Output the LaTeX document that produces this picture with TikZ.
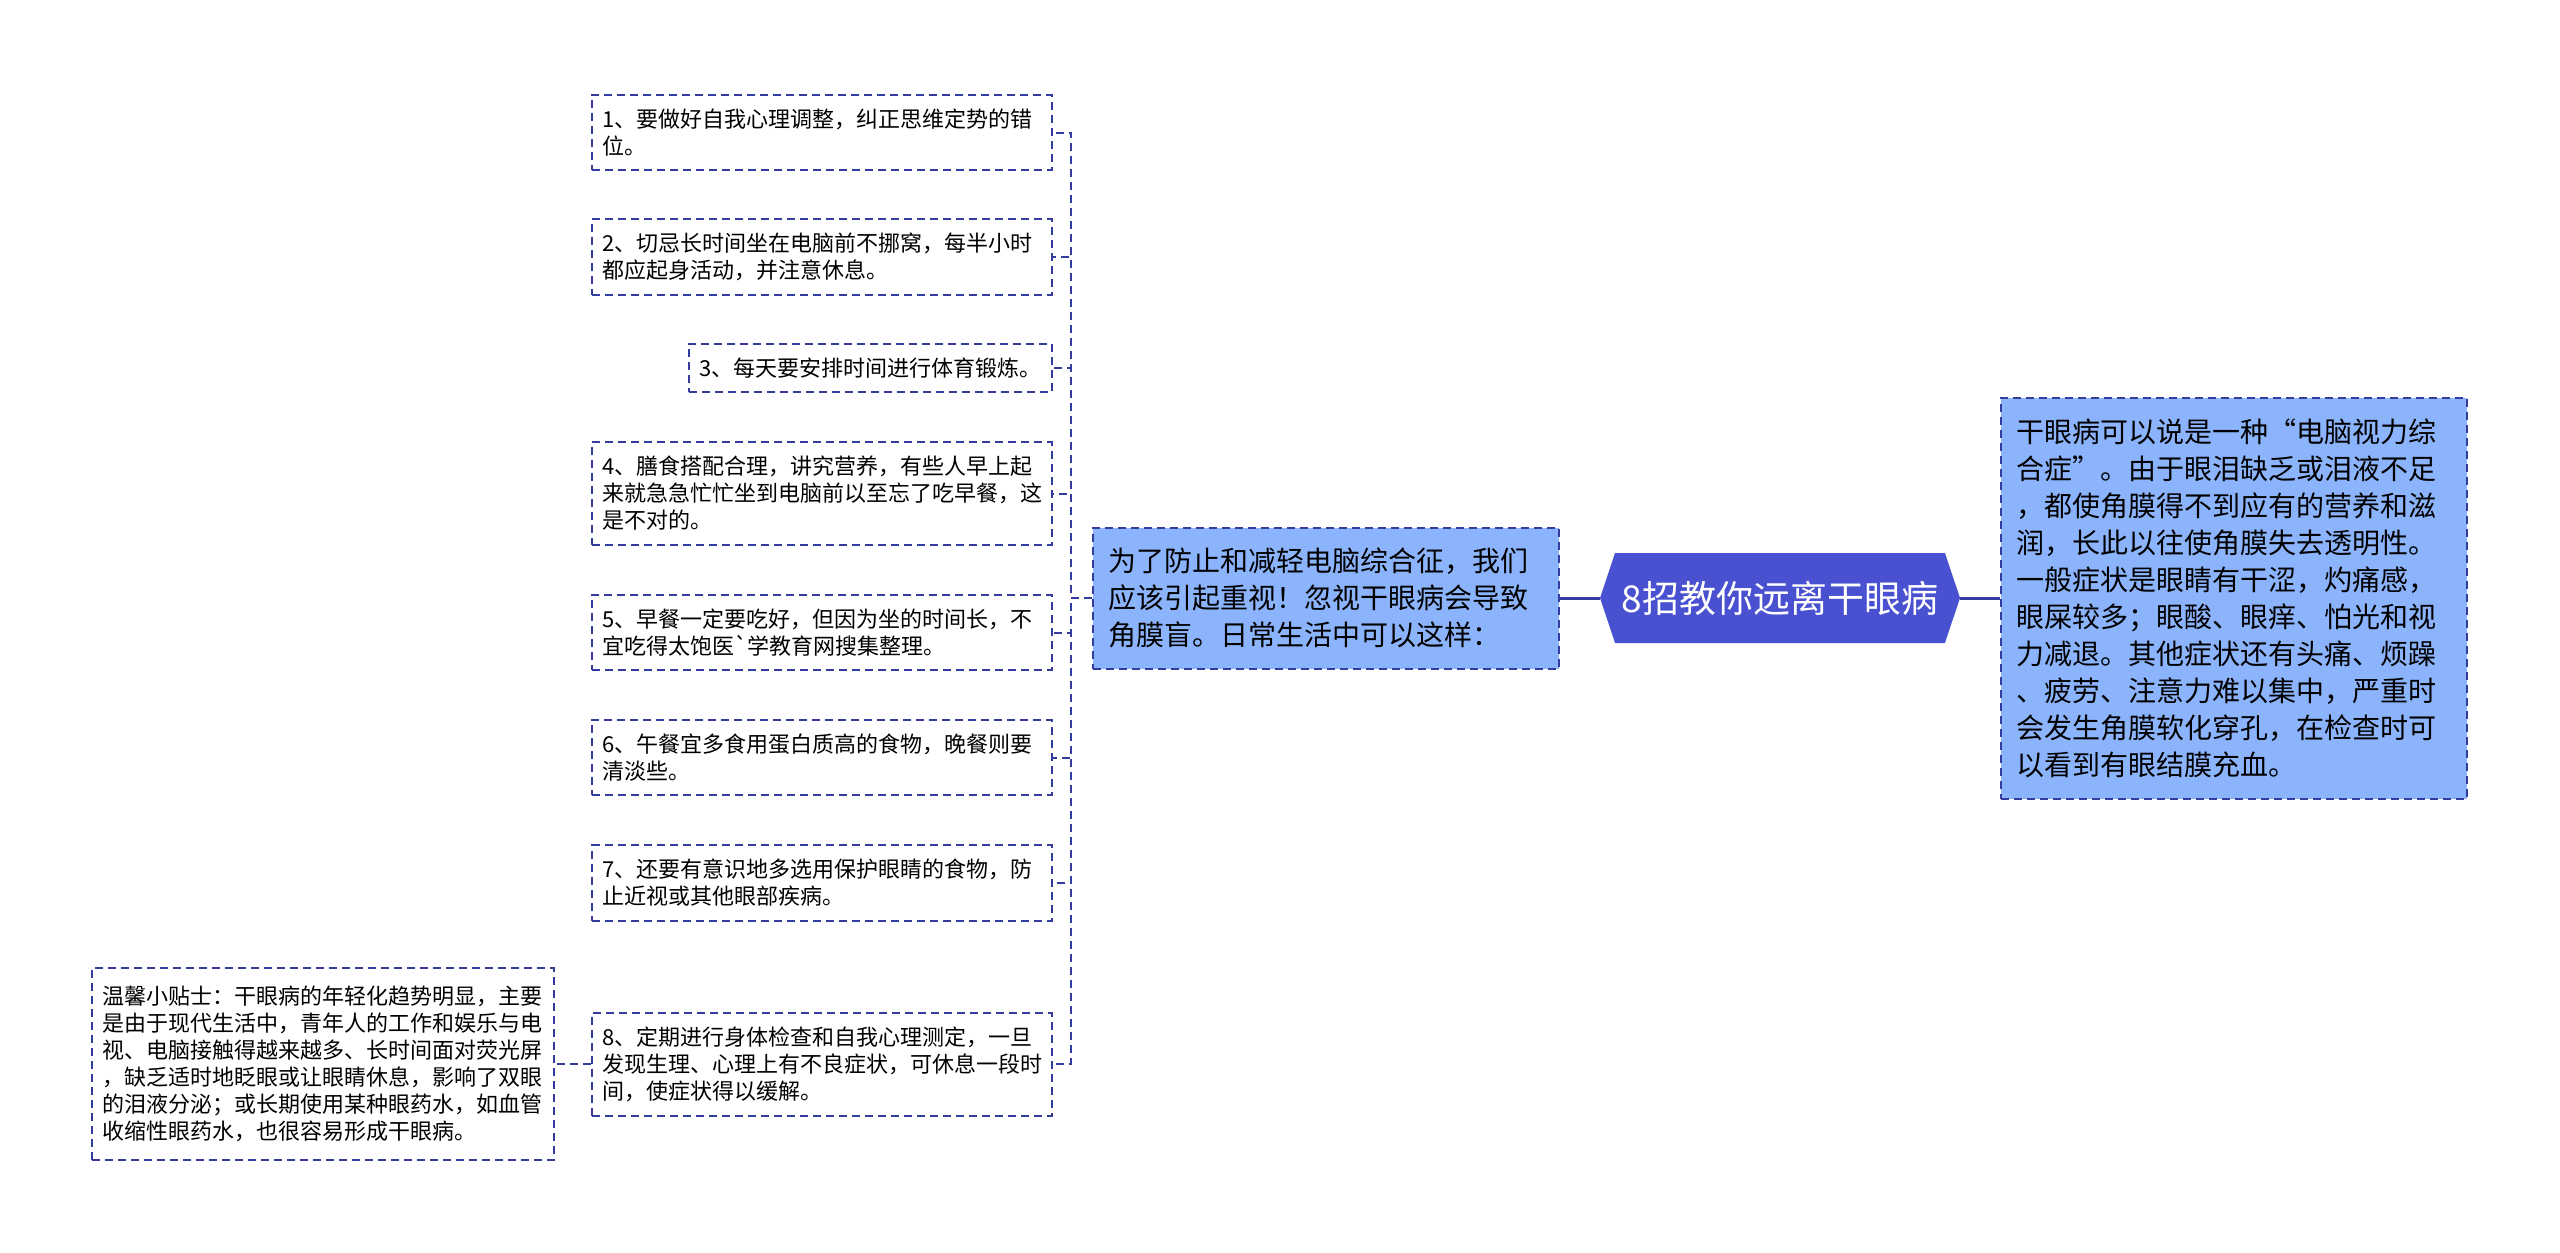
\documentclass[tikz,border=0pt]{standalone}
\usepackage{fontspec}
\newfontfamily\cjkfont{Noto Sans CJK SC}
\usepackage{xcolor}
\usetikzlibrary{shapes.symbols}

\definecolor{rootblue}{RGB}{73,81,208}
\definecolor{lightblue}{RGB}{140,180,252}
\definecolor{edgeblue}{RGB}{52,60,160}

\begin{document}
\begin{tikzpicture}[x=0.5pt,y=-0.5pt,
tipbox/.style={draw=edgeblue,line width=1pt,dash pattern=on 4pt off 2.5pt,fill=white,
  align=left,font=\cjkfont\fontsize{11pt}{13.5pt}\selectfont,inner xsep=5pt,inner ysep=7pt},
leaf/.style={tipbox,anchor=east,text width=220pt},
topic/.style={draw=edgeblue,line width=1pt,dash pattern=on 4pt off 2.5pt,fill=lightblue,
  align=left,font=\cjkfont\fontsize{14pt}{18.5pt}\selectfont,inner xsep=7.5pt,text width=218pt},
rootnode/.style={signal,signal to=west and east,signal pointer angle=143,fill=rootblue,
  text=white,font=\cjkfont\fontsize{18.5pt}{22pt}\selectfont,minimum width=180pt,
  minimum height=45pt,inner sep=0pt},
link/.style={draw=edgeblue,line width=1pt,dash pattern=on 4pt off 2.5pt},
trunk/.style={draw=edgeblue,line width=1.5pt}]
%\draw[help lines] (0,0) grid (2560,1253);
\useasboundingbox (0,0) rectangle (2560,1253);

\node[rootnode] (root) at (1780,598) {8招教你远离干眼病};
\node[topic,anchor=east,minimum height=70.5pt] (howto) at (1560,598)
{为了防止和减轻电脑综合征，我们\\应该引起重视！忽视干眼病会导致\\角膜盲。日常生活中可以这样：};
\node[topic,anchor=west,minimum height=200.5pt] (about) at (2000,598)
{干眼病可以说是一种“电脑视力综\\合症”。由于眼泪缺乏或泪液不足\\，都使角膜得不到应有的营养和滋\\润，长此以往使角膜失去透明性。\\一般症状是眼睛有干涩，灼痛感，\\眼屎较多；眼酸、眼痒、怕光和视\\力减退。其他症状还有头痛、烦躁\\、疲劳、注意力难以集中，严重时\\会发生角膜软化穿孔，在检查时可\\以看到有眼结膜充血。};

\node[leaf] (c1) at (1053,132.5) {1、要做好自我心理调整，纠正思维定势的错\\位。};
\node[leaf] (c2) at (1053,257) {2、切忌长时间坐在电脑前不挪窝，每半小时\\都应起身活动，并注意休息。};
\node[leaf,text width=171.5pt] (c3) at (1053,368) {3、每天要安排时间进行体育锻炼。};
\node[leaf] (c4) at (1053,493.5) {4、膳食搭配合理，讲究营养，有些人早上起\\来就急急忙忙坐到电脑前以至忘了吃早餐，这\\是不对的。};
\node[leaf] (c5) at (1053,632.5) {5、早餐一定要吃好，但因为坐的时间长，不\\宜吃得太饱医`学教育网搜集整理。};
\node[leaf] (c6) at (1053,757.5) {6、午餐宜多食用蛋白质高的食物，晚餐则要\\清淡些。};
\node[leaf] (c7) at (1053,883) {7、还要有意识地多选用保护眼睛的食物，防\\止近视或其他眼部疾病。};
\node[leaf] (c8) at (1053,1064) {8、定期进行身体检查和自我心理测定，一旦\\发现生理、心理上有不良症状，可休息一段时\\间，使症状得以缓解。};

\node[tipbox,anchor=east,text width=221pt,minimum height=96pt] (tips) at (555,1064)
{温馨小贴士：干眼病的年轻化趋势明显，主要\\是由于现代生活中，青年人的工作和娱乐与电\\视、电脑接触得越来越多、长时间面对荧光屏\\，缺乏适时地眨眼或让眼睛休息，影响了双眼\\的泪液分泌；或长期使用某种眼药水，如血管\\收缩性眼药水，也很容易形成干眼病。};

\foreach \i in {1,...,8}
  \path[link] (howto.west) -- ++(-21,0) |- (c\i.east);
\path[link] (c8.west) -- (tips.east);
\path[trunk] (howto.east) -- (root.west);
\path[trunk] (root.east) -- (about.west);
\end{tikzpicture}
\end{document}
